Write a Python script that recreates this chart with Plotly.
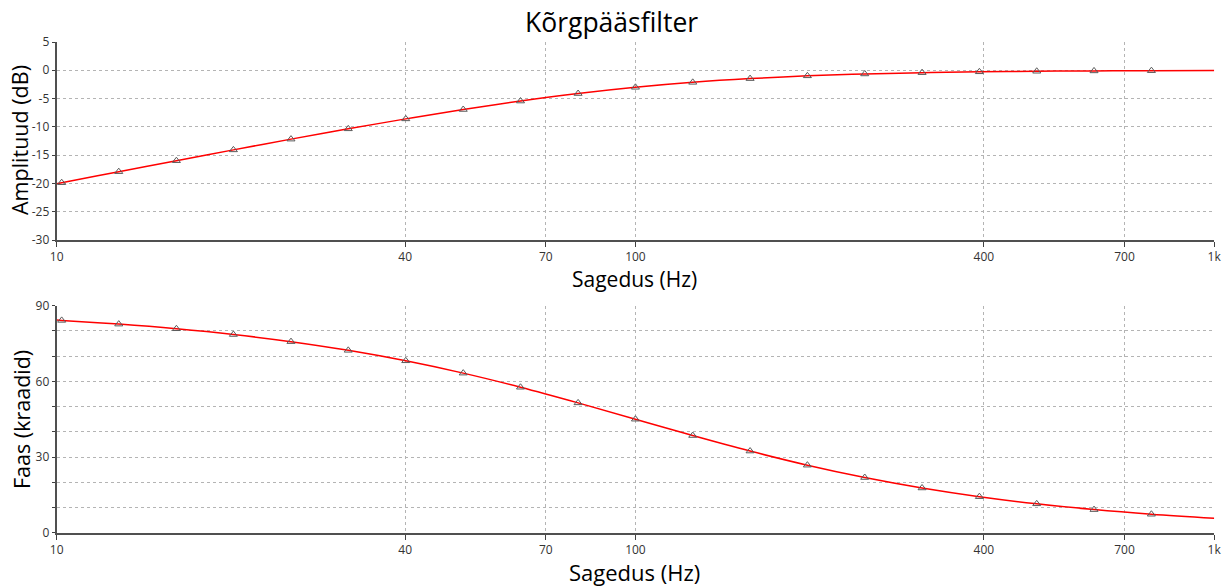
import plotly.graph_objects as go

# Frequencies of the plotted markers (Hz)
freq_markers = [10.2, 12.8, 16.1, 20.2, 25.4, 31.9, 40.1, 50.4, 63.3, 79.6,
                100, 125.6, 157.8, 198.2, 249, 312.8, 392.9, 493.6, 620, 779]
amp_markers = [-19.87, -17.92, -15.98, -14.07, -12.17, -10.35, -8.59, -6.93, -5.44, -4.11,
               -3.01, -2.13, -1.47, -0.98, -0.65, -0.42, -0.27, -0.17, -0.11, -0.07]
phase_markers = [84.17, 82.70, 80.85, 78.58, 75.75, 72.31, 68.15, 63.26, 57.67, 51.47,
                 45.0, 38.53, 32.37, 26.77, 21.88, 17.73, 14.28, 11.45, 9.16, 7.32]

# Curve points (markers plus the curve ends)
freq_line = [10] + freq_markers + [1000]
amp_line = [-20.04] + amp_markers + [-0.04]
phase_line = [84.29] + phase_markers + [5.71]

x_tickvals = [10, 40, 70, 100, 400, 700, 1000]
x_ticktext = ["10", "40", "70", "100", "400", "700", "1k"]
amp_tickvals = [-30, -25, -20, -15, -10, -5, 0, 5]
amp_ticktext = ["-30", "-25", "-20", "-15", "-10", "-5", "0", "5"]
phase_tickvals = [0, 10, 20, 30, 40, 50, 60, 70, 80, 90]
phase_ticktext = ["0", "", "", "30", "", "", "60", "", "", "90"]

W, H = 1225, 588
FONT = "Open Sans"

fig = go.Figure()

line_style = dict(color="#ff0000", width=1.5, shape="spline")
marker_style = dict(symbol="triangle-up-open", size=7, color="#5a5a5a", line=dict(width=1))

fig.add_trace(go.Scatter(x=freq_line, y=amp_line, mode="lines", line=line_style,
                         xaxis="x", yaxis="y", showlegend=False))
fig.add_trace(go.Scatter(x=freq_markers, y=amp_markers, mode="markers", marker=marker_style,
                         xaxis="x", yaxis="y", showlegend=False))
fig.add_trace(go.Scatter(x=freq_line, y=phase_line, mode="lines", line=line_style,
                         xaxis="x2", yaxis="y2", showlegend=False))
fig.add_trace(go.Scatter(x=freq_markers, y=phase_markers, mode="markers", marker=marker_style,
                         xaxis="x2", yaxis="y2", showlegend=False))

xdom = [56.7 / W, 1214.3 / W]
ydom_top = [1 - 240 / H, 1 - 42 / H]
ydom_bot = [1 - 532.7 / H, 1 - 305.7 / H]

grid = dict(showgrid=True, gridcolor="#b4b4b4", gridwidth=1, griddash="3px,3px")
tickfont = dict(family=FONT, size=12, color="#333333")

xaxis_common = dict(type="log", range=[1, 3.0002], domain=xdom, tickmode="array",
                    tickvals=x_tickvals, ticktext=x_ticktext, ticks="outside", ticklen=5,
                    tickcolor="#404040", showline=True, linecolor="#505050", linewidth=2,
                    tickfont=tickfont, zeroline=False, automargin=False, **grid)

fig.update_layout(
    width=W, height=H,
    margin=dict(l=0, r=0, t=0, b=0, pad=0, autoexpand=False),
    paper_bgcolor="white", plot_bgcolor="white",
    xaxis=dict(anchor="y", **xaxis_common),
    xaxis2=dict(anchor="y2", **xaxis_common),
    yaxis=dict(domain=ydom_top, range=[-30, 5], tickmode="array", tickvals=amp_tickvals,
               ticktext=amp_ticktext, ticks="outside", ticklen=3, tickcolor="#404040",
               showline=True, linecolor="#505050", linewidth=2, zeroline=False,
               tickfont=tickfont, anchor="x", automargin=False, **grid),
    yaxis2=dict(domain=ydom_bot, range=[0, 90], tickmode="array", tickvals=phase_tickvals,
                ticktext=phase_ticktext, ticks="outside", ticklen=3, tickcolor="#404040",
                showline=True, linecolor="#505050", linewidth=2, zeroline=False,
                tickfont=tickfont, anchor="x2", automargin=False, **grid),
    annotations=[
        dict(text="Kõrgpääsfilter", x=611 / W, y=1 - 22 / H, xref="paper", yref="paper",
             showarrow=False, font=dict(family=FONT, size=26.5, color="black"),
             xanchor="center", yanchor="middle"),
        dict(text="Sagedus (Hz)", x=634 / W, y=1 - 279 / H, xref="paper", yref="paper",
             showarrow=False, font=dict(family=FONT, size=21, color="black"),
             xanchor="center", yanchor="middle"),
        dict(text="Amplituud (dB)", x=19 / W, y=1 - 140 / H, xref="paper", yref="paper",
             showarrow=False, font=dict(family=FONT, size=21.5, color="black"),
             textangle=-90, xanchor="center", yanchor="middle"),
        dict(text="Faas (kraadid)", x=21 / W, y=1 - 420 / H, xref="paper", yref="paper",
             showarrow=False, font=dict(family=FONT, size=21.5, color="black"),
             textangle=-90, xanchor="center", yanchor="middle"),
        dict(text="Sagedus (Hz)", x=634 / W, y=1 - 572 / H, xref="paper", yref="paper",
             showarrow=False, font=dict(family=FONT, size=22, color="black"),
             xanchor="center", yanchor="middle"),
    ],
)

fig.write_html("out.html")
